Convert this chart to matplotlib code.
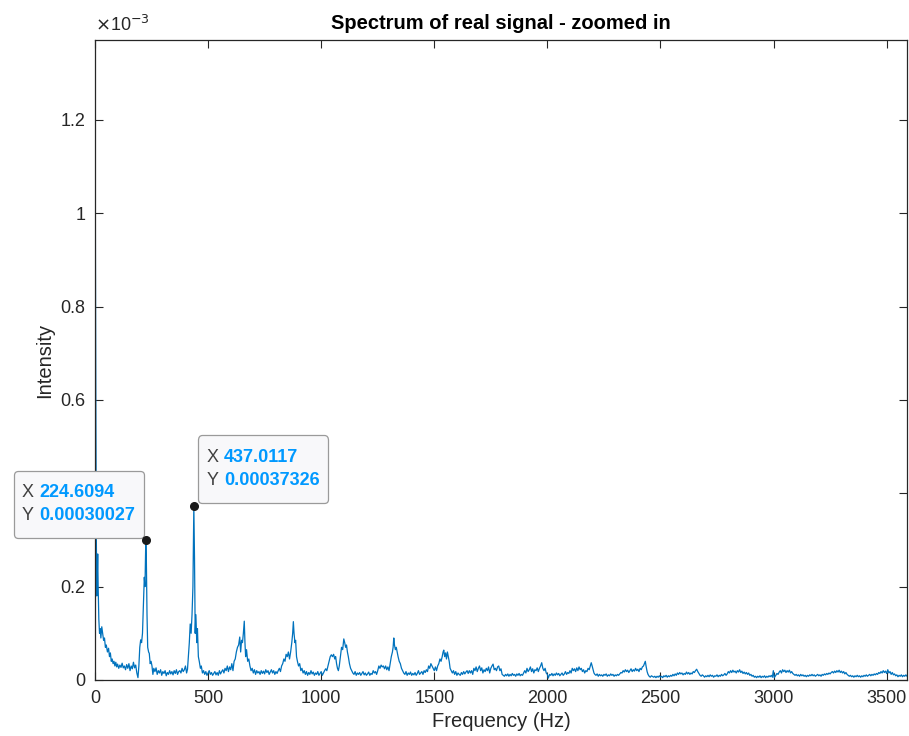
import numpy as np
import matplotlib
matplotlib.use('Agg')
import matplotlib.pyplot as plt
from matplotlib.ticker import FuncFormatter
from matplotlib.offsetbox import TextArea, HPacker, VPacker, AnnotationBbox, DrawingArea

plt.rcParams['font.family'] = ['Liberation Sans', 'DejaVu Sans']

# spectrum: frequency in Hz, intensity in units of 1e-3
freq = [
    0, 2, 4, 6, 8, 10, 12, 14, 17, 20,
    23, 26, 30, 34, 38, 42, 46, 50, 55, 60,
    64, 68, 72, 76, 80, 84, 88, 92, 96, 100,
    105, 110, 115, 120, 125, 130, 135, 140, 145, 150,
    155, 160, 165, 170, 175, 180, 185, 190, 194, 198,
    202, 206, 210, 214, 218, 221, 224.6094, 227, 230, 233,
    237, 240, 244, 248, 252, 256, 260, 265, 270, 275,
    280, 285, 290, 295, 300, 305, 310, 315, 320, 325,
    330, 335, 340, 345, 350, 355, 360, 365, 370, 375,
    380, 385, 390, 395, 400, 405, 409, 413, 417, 421,
    425, 429, 433, 437.0117, 440, 443, 446, 450, 453, 457,
    461, 466, 470, 475, 480, 485, 490, 495, 500, 505,
    510, 515, 520, 525, 530, 535, 540, 545, 550, 555,
    560, 565, 570, 575, 580, 585, 590, 595, 600, 605,
    610, 615, 620, 625, 630, 635, 640, 644, 648, 652,
    656, 660, 663, 666, 670, 675, 680, 685, 690, 695,
    700, 705, 710, 715, 720, 725, 730, 735, 740, 745,
    750, 755, 760, 765, 770, 775, 780, 785, 790, 795,
    800, 805, 810, 815, 820, 825, 830, 835, 840, 845,
    850, 855, 860, 865, 870, 874, 877, 880, 884, 887,
    891, 895, 900, 905, 910, 915, 920, 925, 930, 935,
    940, 945, 950, 955, 960, 965, 970, 975, 980, 985,
    990, 995, 1000, 1005, 1010, 1015, 1020, 1025, 1030, 1035,
    1040, 1045, 1050, 1055, 1060, 1064, 1068, 1072, 1076, 1080,
    1085, 1090, 1095, 1100, 1104, 1108, 1112, 1116, 1120, 1125,
    1130, 1135, 1140, 1145, 1150, 1155, 1160, 1165, 1170, 1175,
    1180, 1185, 1190, 1195, 1200, 1205, 1210, 1215, 1220, 1225,
    1230, 1235, 1240, 1245, 1250, 1255, 1260, 1265, 1270, 1275,
    1280, 1285, 1290, 1295, 1300, 1305, 1310, 1315, 1318, 1321,
    1324, 1328, 1332, 1336, 1340, 1345, 1350, 1355, 1360, 1365,
    1370, 1375, 1380, 1385, 1390, 1395, 1400, 1405, 1410, 1415,
    1420, 1425, 1430, 1435, 1440, 1445, 1450, 1455, 1460, 1465,
    1470, 1475, 1480, 1485, 1490, 1495, 1500, 1505, 1510, 1515,
    1520, 1525, 1530, 1535, 1539, 1542, 1546, 1550, 1554, 1558,
    1562, 1566, 1570, 1575, 1580, 1585, 1590, 1595, 1600, 1605,
    1610, 1615, 1620, 1625, 1630, 1635, 1640, 1645, 1650, 1655,
    1660, 1665, 1670, 1675, 1680, 1685, 1690, 1695, 1700, 1705,
    1710, 1715, 1720, 1725, 1730, 1735, 1740, 1745, 1750, 1755,
    1760, 1765, 1770, 1775, 1780, 1785, 1790, 1795, 1800, 1810,
    1815, 1820, 1825, 1830, 1835, 1840, 1845, 1850, 1855, 1860,
    1865, 1870, 1875, 1880, 1885, 1890, 1895, 1900, 1905, 1910,
    1915, 1920, 1925, 1930, 1935, 1940, 1945, 1950, 1955, 1960,
    1965, 1970, 1975, 1980, 1985, 1990, 1995, 2000, 2004, 2010,
    2015, 2020, 2025, 2030, 2035, 2040, 2045, 2050, 2055, 2060,
    2065, 2070, 2075, 2080, 2085, 2090, 2095, 2100, 2105, 2110,
    2115, 2120, 2125, 2130, 2135, 2140, 2145, 2150, 2155, 2160,
    2165, 2170, 2175, 2180, 2185, 2190, 2194, 2198, 2202, 2206,
    2210, 2215, 2220, 2225, 2230, 2235, 2240, 2245, 2250, 2255,
    2260, 2265, 2270, 2275, 2280, 2285, 2290, 2295, 2300, 2305,
    2310, 2315, 2320, 2325, 2330, 2335, 2340, 2345, 2350, 2355,
    2360, 2365, 2370, 2375, 2380, 2385, 2390, 2395, 2400, 2405,
    2410, 2415, 2420, 2425, 2429, 2433, 2437, 2441, 2445, 2450,
    2455, 2460, 2470, 2475, 2480, 2485, 2490, 2495, 2500, 2505,
    2510, 2515, 2520, 2525, 2530, 2535, 2540, 2545, 2550, 2555,
    2560, 2565, 2570, 2575, 2580, 2585, 2590, 2595, 2600, 2605,
    2610, 2615, 2620, 2625, 2630, 2635, 2640, 2645, 2650, 2655,
    2660, 2665, 2670, 2675, 2680, 2685, 2690, 2695, 2700, 2705,
    2710, 2715, 2720, 2725, 2730, 2735, 2740, 2745, 2750, 2755,
    2760, 2765, 2770, 2775, 2780, 2785, 2790, 2795, 2800, 2805,
    2810, 2815, 2820, 2825, 2830, 2835, 2840, 2845, 2850, 2855,
    2860, 2865, 2870, 2875, 2880, 2885, 2890, 2895, 2900, 2905,
    2910, 2915, 2920, 2925, 2930, 2935, 2940, 2945, 2950, 2955,
    2960, 2965, 2970, 2975, 2980, 2985, 2990, 2995, 2999, 3003,
    3010, 3015, 3020, 3025, 3030, 3035, 3040, 3045, 3050, 3055,
    3060, 3065, 3070, 3075, 3080, 3085, 3090, 3095, 3100, 3105,
    3110, 3115, 3120, 3125, 3130, 3135, 3140, 3145, 3150, 3155,
    3160, 3165, 3170, 3175, 3180, 3185, 3190, 3195, 3200, 3205,
    3210, 3215, 3220, 3225, 3230, 3235, 3240, 3245, 3250, 3255,
    3260, 3265, 3270, 3275, 3280, 3285, 3290, 3295, 3300, 3305,
    3310, 3315, 3320, 3325, 3330, 3335, 3340, 3345, 3350, 3355,
    3360, 3365, 3370, 3375, 3380, 3385, 3390, 3395, 3400, 3405,
    3410, 3415, 3420, 3425, 3430, 3435, 3440, 3445, 3450, 3455,
    3460, 3465, 3470, 3475, 3480, 3485, 3490, 3495, 3500, 3505,
    3510, 3515, 3520, 3525, 3530, 3535, 3540, 3545, 3550, 3555,
    3560, 3565, 3570, 3575, 3580, 3585, 3590, 3595,
]
intensity = [
    1.45, 0.90, 0.55, 0.30, 0.18, 0.22, 0.27, 0.20, 0.13, 0.10,
    0.11, 0.09, 0.114, 0.10, 0.085, 0.09, 0.07, 0.075, 0.06, 0.068,
    0.05, 0.058, 0.04, 0.045, 0.035, 0.04, 0.03, 0.038, 0.028, 0.034,
    0.025, 0.032, 0.027, 0.036, 0.026, 0.03, 0.022, 0.033, 0.025, 0.035,
    0.02, 0.03, 0.024, 0.038, 0.026, 0.032, 0.015, 0.005, 0.03, 0.07,
    0.086, 0.08, 0.10, 0.16, 0.22, 0.20, 0.30027, 0.26, 0.14, 0.07,
    0.06, 0.057, 0.035, 0.04, 0.03, 0.012, 0.025, 0.018, 0.026, 0.012,
    0.02, 0.015, 0.022, 0.01, 0.018, 0.014, 0.02, 0.009, 0.016, 0.012,
    0.02, 0.013, 0.018, 0.011, 0.02, 0.014, 0.022, 0.012, 0.018, 0.02,
    0.015, 0.025, 0.018, 0.022, 0.03, 0.015, 0.023, 0.05, 0.08, 0.12,
    0.10, 0.14, 0.20, 0.37326, 0.26, 0.10, 0.14, 0.08, 0.11, 0.05,
    0.04, 0.025, 0.03, 0.015, 0.02, 0.012, 0.018, 0.01, 0.015, 0.02,
    0.012, 0.016, 0.01, 0.014, 0.018, 0.011, 0.016, 0.01, 0.02, 0.013,
    0.018, 0.022, 0.015, 0.025, 0.02, 0.03, 0.018, 0.028, 0.022, 0.035,
    0.02, 0.04, 0.045, 0.06, 0.07, 0.075, 0.092, 0.06, 0.085, 0.08,
    0.10, 0.126, 0.08, 0.05, 0.065, 0.04, 0.045, 0.03, 0.02, 0.025,
    0.015, 0.022, 0.012, 0.02, 0.015, 0.018, 0.012, 0.02, 0.014, 0.019,
    0.013, 0.022, 0.016, 0.02, 0.012, 0.017, 0.022, 0.015, 0.02, 0.012,
    0.018, 0.014, 0.02, 0.025, 0.018, 0.03, 0.035, 0.045, 0.04, 0.055,
    0.05, 0.06, 0.045, 0.06, 0.08, 0.10, 0.125, 0.10, 0.08, 0.085,
    0.05, 0.04, 0.03, 0.035, 0.02, 0.025, 0.015, 0.02, 0.012, 0.018,
    0.01, 0.016, 0.012, 0.02, 0.013, 0.017, 0.01, 0.015, 0.012, 0.018,
    0.01, 0.014, 0.018, 0.01, 0.015, 0.02, 0.024, 0.02, 0.03, 0.04,
    0.05, 0.054, 0.05, 0.055, 0.045, 0.05, 0.035, 0.025, 0.02, 0.03,
    0.05, 0.07, 0.065, 0.088, 0.08, 0.07, 0.075, 0.06, 0.05, 0.035,
    0.025, 0.02, 0.015, 0.012, 0.018, 0.01, 0.015, 0.012, 0.016, 0.01,
    0.014, 0.018, 0.011, 0.015, 0.01, 0.013, 0.017, 0.01, 0.014, 0.012,
    0.02, 0.015, 0.018, 0.012, 0.02, 0.03, 0.025, 0.032, 0.028, 0.03,
    0.024, 0.03, 0.022, 0.028, 0.02, 0.035, 0.05, 0.06, 0.07, 0.09,
    0.075, 0.065, 0.07, 0.06, 0.05, 0.04, 0.035, 0.025, 0.02, 0.015,
    0.012, 0.018, 0.01, 0.015, 0.012, 0.017, 0.01, 0.014, 0.011, 0.016,
    0.01, 0.014, 0.02, 0.012, 0.015, 0.018, 0.012, 0.02, 0.016, 0.022,
    0.018, 0.03, 0.025, 0.035, 0.03, 0.025, 0.02, 0.028, 0.02, 0.03,
    0.035, 0.045, 0.04, 0.05, 0.06, 0.064, 0.05, 0.058, 0.045, 0.06,
    0.05, 0.04, 0.025, 0.02, 0.015, 0.02, 0.012, 0.018, 0.01, 0.015,
    0.012, 0.01, 0.016, 0.012, 0.018, 0.013, 0.017, 0.02, 0.014, 0.02,
    0.015, 0.02, 0.012, 0.025, 0.02, 0.028, 0.018, 0.025, 0.03, 0.02,
    0.026, 0.015, 0.022, 0.018, 0.025, 0.02, 0.028, 0.015, 0.025, 0.03,
    0.034, 0.022, 0.025, 0.02, 0.028, 0.03, 0.02, 0.024, 0.012, 0.008,
    0.012, 0.009, 0.013, 0.008, 0.012, 0.009, 0.014, 0.01, 0.012, 0.008,
    0.013, 0.01, 0.014, 0.009, 0.012, 0.01, 0.015, 0.02, 0.015, 0.025,
    0.018, 0.022, 0.028, 0.018, 0.024, 0.015, 0.022, 0.02, 0.026, 0.018,
    0.025, 0.03, 0.037, 0.025, 0.02, 0.025, 0.015, 0.012, 0.004, 0.012,
    0.01, 0.014, 0.009, 0.013, 0.01, 0.015, 0.011, 0.014, 0.009, 0.012,
    0.015, 0.01, 0.013, 0.018, 0.012, 0.016, 0.014, 0.02, 0.015, 0.025,
    0.02, 0.024, 0.018, 0.026, 0.02, 0.028, 0.022, 0.025, 0.018, 0.022,
    0.015, 0.02, 0.018, 0.025, 0.022, 0.03, 0.037, 0.03, 0.022, 0.015,
    0.012, 0.01, 0.013, 0.008, 0.012, 0.009, 0.011, 0.008, 0.012, 0.01,
    0.013, 0.008, 0.011, 0.009, 0.013, 0.01, 0.012, 0.008, 0.011, 0.009,
    0.012, 0.01, 0.013, 0.016, 0.015, 0.02, 0.017, 0.022, 0.018, 0.021,
    0.016, 0.02, 0.024, 0.018, 0.022, 0.019, 0.025, 0.02, 0.023, 0.018,
    0.025, 0.022, 0.028, 0.03, 0.035, 0.04, 0.028, 0.018, 0.012, 0.008,
    0.006, 0.009, 0.006, 0.008, 0.005, 0.008, 0.006, 0.009, 0.006, 0.008,
    0.005, 0.009, 0.007, 0.01, 0.006, 0.009, 0.007, 0.01, 0.008, 0.012,
    0.009, 0.013, 0.01, 0.015, 0.012, 0.016, 0.013, 0.015, 0.011, 0.014,
    0.012, 0.017, 0.013, 0.016, 0.012, 0.015, 0.013, 0.018, 0.016, 0.02,
    0.023, 0.018, 0.014, 0.01, 0.008, 0.011, 0.009, 0.006, 0.009, 0.007,
    0.01, 0.007, 0.011, 0.008, 0.01, 0.006, 0.009, 0.008, 0.011, 0.007,
    0.01, 0.008, 0.012, 0.009, 0.011, 0.014, 0.01, 0.013, 0.018, 0.015,
    0.02, 0.016, 0.021, 0.017, 0.019, 0.015, 0.02, 0.017, 0.022, 0.016,
    0.019, 0.014, 0.017, 0.013, 0.016, 0.012, 0.015, 0.01, 0.012, 0.008,
    0.01, 0.006, 0.008, 0.005, 0.008, 0.006, 0.009, 0.005, 0.008, 0.006,
    0.009, 0.005, 0.008, 0.006, 0.009, 0.007, 0.01, 0.006, 0.02, 0.005,
    0.01, 0.014, 0.012, 0.017, 0.02, 0.015, 0.022, 0.018, 0.021, 0.016,
    0.02, 0.017, 0.021, 0.015, 0.018, 0.014, 0.012, 0.01, 0.012, 0.009,
    0.011, 0.008, 0.012, 0.009, 0.011, 0.008, 0.01, 0.007, 0.01, 0.008,
    0.011, 0.009, 0.012, 0.009, 0.011, 0.008, 0.01, 0.012, 0.009, 0.011,
    0.008, 0.012, 0.01, 0.013, 0.011, 0.014, 0.012, 0.015, 0.013, 0.016,
    0.018, 0.015, 0.019, 0.016, 0.02, 0.017, 0.021, 0.016, 0.019, 0.015,
    0.018, 0.013, 0.016, 0.012, 0.01, 0.008, 0.01, 0.007, 0.009, 0.006,
    0.009, 0.007, 0.01, 0.007, 0.009, 0.006, 0.009, 0.007, 0.01, 0.008,
    0.011, 0.008, 0.01, 0.012, 0.009, 0.012, 0.01, 0.013, 0.011, 0.014,
    0.012, 0.016, 0.014, 0.018, 0.015, 0.02, 0.016, 0.019, 0.014, 0.022,
    0.015, 0.018, 0.012, 0.016, 0.011, 0.013, 0.009, 0.011, 0.007, 0.01,
    0.008, 0.011, 0.007, 0.01, 0.008, 0.011, 0.008, 0.01,
]

# data tips shown on the chart
tip_x = [224.6094, 437.0117]
tip_y = [0.30027, 0.37326]
tip_xtext = ['224.6094', '437.0117']
tip_ytext = ['0.00030027', '0.00037326']

line_col = '#0072BD'
dark = '#262626'

fig = plt.figure(figsize=(9.09, 7.36), dpi=100)
ax = fig.add_axes([0.1045, 0.0761, 0.8933, 0.8696])

ax.plot(freq, np.array(intensity) * 1e-3, color=line_col, lw=0.9, zorder=2)

ax.set_xlim(0, 3590)
ax.set_ylim(0, 1.371e-3)
ax.set_xticks([0, 500, 1000, 1500, 2000, 2500, 3000, 3500])
ax.set_yticks(np.array([0, 0.2, 0.4, 0.6, 0.8, 1.0, 1.2]) * 1e-3)
ax.yaxis.set_major_formatter(FuncFormatter(lambda v, p: '%g' % round(v * 1e3, 3)))
ax.tick_params(direction='in', length=6, width=0.8, top=True, right=True,
               labelsize=13, colors=dark, pad=7)
for s in ax.spines.values():
    s.set_color(dark)
    s.set_linewidth(0.9)

ax.text(0, 1.008, r'$\times$10$^{-3}$', transform=ax.transAxes, ha='left',
        va='bottom', fontsize=13, color=dark)

ax.set_title('Spectrum of real signal - zoomed in', fontsize=14.5,
             fontweight='bold', pad=8)
ax.set_xlabel('Frequency (Hz)', fontsize=14.5, color=dark, labelpad=4)
ax.set_ylabel('Intensity', fontsize=14.5, color=dark, labelpad=4)

# data tip boxes
aligns = [(1, 0), (0, 0)]
offsets = [(-7.4, 7.4), (8.9, 8.1)]
for i in range(len(tip_x)):
    rows = [DrawingArea(0, 0)]
    for lab, val in (('X', tip_xtext[i]), ('Y', tip_ytext[i])):
        rows.append(HPacker(children=[
            TextArea(lab, textprops=dict(color='#404040', fontsize=13)),
            TextArea(val, textprops=dict(color='#0099FF', fontsize=13,
                                         fontweight='bold'))],
            sep=4, pad=0, align='baseline'))
    rows.append(DrawingArea(0, 0))
    box = VPacker(children=rows, sep=4, pad=0, align='left')
    ab = AnnotationBbox(box, (tip_x[i], tip_y[i] * 1e-3), xybox=offsets[i],
                        xycoords='data', boxcoords='offset points',
                        box_alignment=aligns[i], fontsize=10,
                        bboxprops=dict(boxstyle='round,pad=0.6,rounding_size=0.3',
                                       fc='#F8F8FA', ec='#9A9A9A', lw=0.9),
                        zorder=4)
    ax.add_artist(ab)

ax.plot(tip_x, np.array(tip_y) * 1e-3, 'o', color='#1A1A1A', ms=5.5, zorder=5)

fig.savefig('out.png', dpi=100)
